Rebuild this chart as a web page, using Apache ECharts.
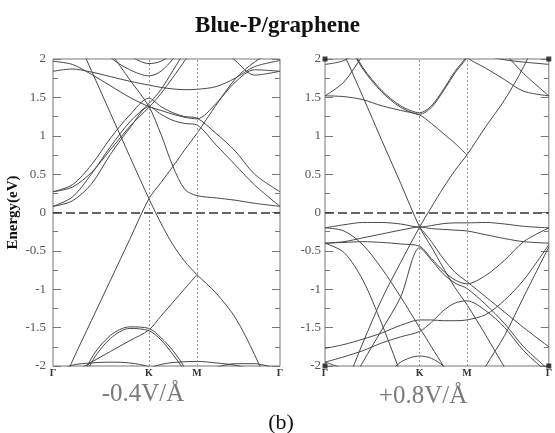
<!DOCTYPE html>
<html><head><meta charset="utf-8">
<script src="https://cdn.jsdelivr.net/npm/echarts@6/dist/echarts.min.js"></script>
<style>html,body{margin:0;padding:0;background:#fff}#c{width:555px;height:433px}</style>
</head><body><div id="c"></div>
<script>
// k-path positions: Γ=0, K=1, M=1.5, Γ=2.366 (|ΓK| = 1)
const kGrid = [0, 0.2, 0.4, 0.6, 0.8, 1.0, 1.125, 1.25, 1.375, 1.5, 1.7, 1.9, 2.1, 2.366];
const kTickValues = [0, 1, 1.5, 2.366];
const kTickLabels = ['Γ', 'K', 'M', 'Γ'];
const kHighSym = [1, 1.5];
const panelLabels = ['-0.4V/Å', '+0.8V/Å'];
const cornerPts = [[0, 2], [2.366, 2], [0, -2], [2.366, -2]];

// ---- left panel (-0.4 V/Å) bands, energies in eV at kGrid ----
const lA  = [2.96, 2.41, 1.85, 1.29, 0.73, 0.18, -0.14, -0.42, -0.64, -0.81, -1.05, -1.37, -1.85, -2.6];
const lB  = [-2.5, -1.94, -1.41, -0.88, -0.35, 0.18, 0.39, 0.60, 0.82, 1.03, 1.40, 1.74, 1.96, 2.15];
const lC1 = [null, -2.5, -1.90, -1.60, -1.49, -1.51, -1.63, -1.80, -2.03, -2.4, null, null, null, null];
const lC2 = [null, -2.6, -1.96, -1.64, -1.51, -1.54, -1.66, -1.85, -2.08, -2.5, null, null, null, null];
const lD  = [null, -2.1, -1.95, -1.81, -1.67, -1.53, -1.35, -1.17, -0.99, -0.81, null, null, null, null];
const lE  = [-2.1, -1.99, -1.96, -1.95, -1.96, -2.01, -2.1, null, null, null, null, null, null, null];
const lF  = [null, null, null, null, null, -2.03, -1.98, -1.955, -1.945, -1.94, -1.96, -1.99, -2.05, null];
const lG  = [null, null, null, null, null, null, null, null, null, -2.15, -2.02, -1.97, -1.97, -2.05];
const l1  = [0.08, 0.15, 0.37, 0.76, 1.10, 1.38, 1.28, 1.20, 1.16, 1.14, 0.88, 0.62, 0.36, 0.08];
const l2  = [0.27, 0.36, 0.62, 0.97, 1.27, 1.49, 1.38, 1.30, 1.25, 1.23, 1.03, 0.80, 0.50, 0.27];
const l3  = [0.08, 0.20, 0.50, 0.86, 1.18, 1.42, 1.60, 1.85, 2.10, 2.35, null, null, null, null];
const l4  = [0.27, 0.33, 0.52, 0.82, 1.12, 1.37, 1.55, 1.76, 1.98, 2.20, null, null, null, null];
const lD3 = [null, null, 2.4, 2.08, 1.73, 1.38, 1.02, 0.60, 0.30, 0.22, 0.19, 0.16, 0.12, 0.08];
const lU1 = [1.84, 1.87, 1.83, 1.77, 1.71, 1.66, 1.63, 1.61, 1.60, 1.605, 1.64, 1.75, 1.90, 1.98];
const lU2 = [1.97, 1.93, 1.80, 1.65, 1.50, 1.38, 1.33, 1.28, 1.24, 1.22, 1.42, 1.70, 1.86, 1.84];
const lT2 = [null, null, 2.3, 2.02, 1.86, 1.78, 1.84, 2.0, 2.2, null, null, null, null, null];
const lT3 = [null, null, null, 2.3, 2.05, 1.94, 1.97, 2.08, 2.3, null, null, null, null, null];
const lT4 = [null, null, null, null, null, null, null, null, null, 2.4, 2.2, 1.98, 1.79, 1.84];

// ---- right panel (+0.8 V/Å) bands ----
const rD1 = [2.64, 2.07, 1.51, 0.94, 0.38, -0.19, -0.45, -0.72, -0.98, -1.20, -1.60, -2.02, -2.4, null];
const rD2 = [-2.8, -2.3, -1.70, -1.13, -0.65, -0.19, 0.07, 0.32, 0.55, 0.75, 1.12, 1.47, 1.90, 2.6];
const rP1 = [2.8, 2.3, 1.87, 1.57, 1.37, 1.28, 1.37, 1.58, 1.82, 2.02, 2.5, null, null, null];
const rP2 = [2.82, 2.32, 1.89, 1.59, 1.39, 1.30, 1.39, 1.60, 1.84, 2.04, 2.5, null, null, null];
const r1  = [1.52, 1.51, 1.47, 1.39, 1.33, 1.27, 1.16, 1.03, 0.90, 0.75, null, null, null, null];
const r2  = [1.52, 1.70, 2.05, 2.4, null, null, null, null, null, null, null, null, null, null];
const r3  = [null, null, null, null, null, null, null, null, 2.2, 2.02, 1.88, 1.73, 1.58, 1.52];
const r4  = [null, null, null, null, null, null, null, null, null, null, 2.4, 2.08, 1.81, 1.52];
const r5  = [1.93, 1.98, 2.15, null, null, null, null, null, null, null, null, null, null, null];
const r6  = [null, null, null, null, null, null, null, null, null, 2.2, 2.05, 1.99, 1.96, 1.93];
const v1  = [-0.20, -0.16, -0.13, -0.13, -0.15, -0.19, -0.17, -0.145, -0.135, -0.135, -0.13, -0.15, -0.18, -0.20];
const v2  = [-0.40, -0.39, -0.38, -0.39, -0.41, -0.44, -0.60, -0.76, -0.88, -0.93, -0.82, -0.62, -0.38, -0.20];
const v3  = [-0.40, -0.38, -0.33, -0.28, -0.23, -0.19, -0.21, -0.22, -0.23, -0.24, -0.29, -0.34, -0.38, -0.40];
const v4  = [-0.20, -0.24, -0.42, -0.73, -1.10, -1.50, -1.75, -2.0, -2.3, null, null, null, null, null];
const v5  = [-0.40, -0.52, -0.88, -1.45, -2.1, null, null, null, null, null, null, null, null, null];
const v6  = [-1.77, -1.72, -1.65, -1.57, -1.47, -1.40, -1.40, -1.41, -1.41, -1.40, -1.33, -1.14, -0.88, -0.42];
const v7  = [-1.95, -1.88, -1.80, -1.70, -1.62, -1.55, -1.43, -1.28, -1.18, -1.15, -1.28, -1.50, -1.80, -2.1];
const v8  = [null, null, null, -2.2, -1.95, -1.87, -1.90, -2.0, -2.2, null, null, null, null, null];
const v9  = [-1.95, -2.05, -2.3, null, null, null, null, null, null, null, null, null, null, null];
const v10 = [null, null, null, null, null, -0.19, -0.38, -0.60, -0.78, -0.90, -1.10, -1.30, -1.50, -1.75];
const v11 = [null, -2.4, -1.95, -1.53, -1.10, -0.46, -0.62, -0.80, -0.92, -0.99, -1.20, -1.45, -1.75, -2.05];
const v12 = [null, null, null, null, null, null, null, null, null, -2.45, -2.0, -1.6, -1.1, -0.45];

const leftBands = [lA, lB, lC1, lC2, lD, lE, lF, lG, l1, l2, l3, l4, lD3, lU1, lU2, lT2, lT3, lT4];
const rightBands = [rD1, rD2, rP1, rP2, r1, r2, r3, r4, r5, r6, v1, v2, v3, v4, v5, v6, v7, v8, v9, v10, v11, v12];

const SERIF = '"Liberation Serif","Times New Roman",serif';

function bandSeries(arr, xi, yi) {
  return {
    type: 'line', xAxisIndex: xi, yAxisIndex: yi, silent: true,
    data: kGrid.map((k, i) => [k, arr[i] == null ? '-' : arr[i]]),
    smooth: 0.3, symbol: 'none', showSymbol: false, connectNulls: false,
    lineStyle: { color: '#474747', width: 1 }, z: 3
  };
}
function refLines() {
  return {
    silent: true, symbol: ['none', 'none'], label: { show: false },
    data: kHighSym.map(k => ({ xAxis: k, lineStyle: { type: [2, 2], color: '#999', width: 1 } }))
      .concat([{ yAxis: 0, lineStyle: { type: [9, 4], color: '#333', width: 1.6 } }])
  };
}
function xAx(gi) {
  return {
    type: 'value', gridIndex: gi, min: 0, max: 2.366,
    axisLine: { show: false }, axisTick: { show: false }, splitLine: { show: false },
    axisLabel: {
      customValues: kTickValues, margin: 2,
      formatter: v => kTickLabels[kTickValues.indexOf(v)] || '',
      fontFamily: SERIF, fontWeight: 'bold', fontSize: 10, color: '#333'
    }
  };
}
function yAx(gi, pos, showLabel, margin) {
  return {
    type: 'value', gridIndex: gi, position: pos, min: -2, max: 2, interval: 0.5,
    axisLine: { show: false }, splitLine: { show: false },
    axisTick: { show: true, inside: true, length: 8, lineStyle: { color: '#777' } },
    minorTick: { show: true, splitNumber: 2, length: 5, lineStyle: { color: '#777' } },
    axisLabel: { show: showLabel, margin: margin, fontFamily: SERIF, fontSize: 13, color: '#555' }
  };
}

const series = [];
leftBands.forEach((b, i) => { const s = bandSeries(b, 0, 0); if (i === 0) s.markLine = refLines(); series.push(s); });
rightBands.forEach((b, i) => { const s = bandSeries(b, 1, 2); if (i === 0) s.markLine = refLines(); series.push(s); });
series.push({
  type: 'scatter', xAxisIndex: 1, yAxisIndex: 2, data: cornerPts, symbol: 'rect', symbolSize: 5,
  itemStyle: { color: '#111' }, clip: false, silent: true, z: 5
});

const yLeft = yAx(0, 'left', true, 7);
yLeft.name = 'Energy(eV)';
yLeft.nameLocation = 'middle';
yLeft.nameGap = 32;
yLeft.nameTextStyle = { fontFamily: SERIF, fontWeight: 'bold', fontSize: 15, color: '#111' };

const chart = echarts.init(document.getElementById('c'), null, { renderer: 'canvas' });
chart.setOption({
  animation: false,
  backgroundColor: '#fff',
  title: { text: 'Blue-P/graphene', left: 'center', top: 10,
    textStyle: { fontFamily: SERIF, fontWeight: 'bold', fontSize: 23, color: '#111' } },
  grid: [
    { left: 53, top: 59, width: 227, height: 307, show: true, borderColor: '#777', borderWidth: 1, backgroundColor: 'transparent' },
    { left: 325, top: 59, width: 227, height: 307, show: true, borderColor: '#777', borderWidth: 1, backgroundColor: 'transparent' }
  ],
  xAxis: [xAx(0), xAx(1)],
  yAxis: [yLeft, yAx(0, 'right', false, 4), yAx(1, 'left', true, 4), yAx(1, 'right', false, 4)],
  series: series,
  graphic: [
    { type: 'text', x: 143, y: 394, style: { text: panelLabels[0], font: '25px ' + SERIF, fill: '#7a7a7a', align: 'center', verticalAlign: 'middle' } },
    { type: 'text', x: 423, y: 396, style: { text: panelLabels[1], font: '25px ' + SERIF, fill: '#7a7a7a', align: 'center', verticalAlign: 'middle' } },
    { type: 'text', x: 281, y: 423, style: { text: '(b)', font: '22px ' + SERIF, fill: '#111', align: 'center', verticalAlign: 'middle' } }
  ]
});
</script></body></html>
